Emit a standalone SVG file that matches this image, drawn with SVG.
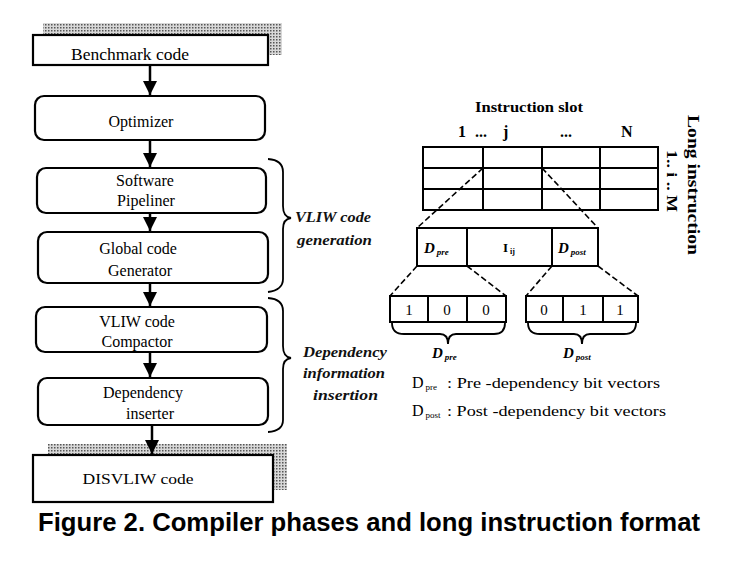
<svg xmlns="http://www.w3.org/2000/svg" width="738" height="583" viewBox="0 0 738 583">
<defs>
<pattern id="dots" width="3" height="3" patternUnits="userSpaceOnUse">
<rect width="3" height="3" fill="#d8d8d8"/>
<rect width="1.5" height="1.5" fill="#555"/>
</pattern>
<marker id="ah" viewBox="0 0 14 14" refX="14" refY="7" markerWidth="14" markerHeight="14" markerUnits="userSpaceOnUse" orient="auto">
<path d="M0,0 L14,7 L0,14 Z" fill="#000"/>
</marker>
</defs>
<style>
.box{fill:#fff;stroke:#000;stroke-width:2.2}
.lbl{font-family:"Liberation Serif","Times New Roman",serif;font-size:16px;fill:#000;text-anchor:middle}
.it{font-family:"Liberation Serif","Times New Roman",serif;font-size:15px;font-style:italic;font-weight:bold;fill:#111}
.b{font-family:"Liberation Serif","Times New Roman",serif;font-weight:bold;fill:#000}
.r{font-family:"Liberation Serif","Times New Roman",serif;fill:#000}
.arr{stroke:#000;stroke-width:2.5;fill:none;marker-end:url(#ah)}
.grid{stroke:#000;stroke-width:2;fill:none}
.dash{stroke:#000;stroke-width:1.6;fill:none;stroke-dasharray:6 3}
.brace{stroke:#000;stroke-width:1.8;fill:none}
</style>
<rect width="738" height="583" fill="#fff"/>

<g id="benchmark">
<rect x="43" y="23" width="239" height="32" fill="url(#dots)"/>
<rect class="box" x="33" y="35" width="235" height="30"/>
<text class="lbl" x="130" y="60" textLength="118" lengthAdjust="spacingAndGlyphs">Benchmark  code</text>
</g>

<g id="optimizer">
<rect class="box" x="35" y="96" width="230" height="44" rx="9"/>
<text class="lbl" x="141" y="127">Optimizer</text>
</g>

<g id="pipeliner">
<rect class="box" x="37" y="168" width="229" height="45" rx="9"/>
<text class="lbl" x="145" y="186">Software</text>
<text class="lbl" x="146" y="206">Pipeliner</text>
</g>

<g id="globalcode">
<rect class="box" x="38" y="232" width="230" height="51" rx="9"/>
<text class="lbl" x="138" y="254">Global code</text>
<text class="lbl" x="140" y="276">Generator</text>
</g>

<g id="compactor">
<rect class="box" x="36" y="307" width="231" height="45" rx="9"/>
<text class="lbl" x="137" y="327">VLIW code</text>
<text class="lbl" x="137" y="347">Compactor</text>
</g>

<g id="inserter">
<rect class="box" x="38" y="378" width="230" height="47" rx="9"/>
<text class="lbl" x="143" y="398">Dependency</text>
<text class="lbl" x="150" y="419">inserter</text>
</g>

<g id="disvliw">
<rect x="48" y="444" width="239" height="46" fill="url(#dots)"/>
<rect class="box" x="33" y="455" width="240" height="47"/>
<text class="lbl" x="138" y="484" style="font-size:15px" textLength="111" lengthAdjust="spacingAndGlyphs">DISVLIW  code</text>
</g>

<g id="brace-vliw">
<path class="brace" d="M268,159 Q283,160 283,172 L283,206 Q283,217 291,218 Q283,219 283,229 L283,279 Q283,290 268,292"/>
<text class="it" x="295" y="222" textLength="76" lengthAdjust="spacingAndGlyphs">VLIW code</text>
<text class="it" x="297" y="245" textLength="75" lengthAdjust="spacingAndGlyphs">generation</text>
</g>

<g id="brace-dep">
<path class="brace" d="M268,298 Q283,299 283,311 L283,346 Q283,357 291,358 Q283,359 283,369 L283,420 Q283,431 268,432"/>
<text class="it" x="303" y="357" textLength="84" lengthAdjust="spacingAndGlyphs">Dependency</text>
<text class="it" x="303" y="378" textLength="82" lengthAdjust="spacingAndGlyphs">information</text>
<text class="it" x="313" y="400" textLength="65" lengthAdjust="spacingAndGlyphs">insertion</text>
</g>

<g id="slot-grid">
<text class="b" x="529" y="112" font-size="14" text-anchor="middle" textLength="108" lengthAdjust="spacingAndGlyphs">Instruction slot</text>
<text class="b" x="458" y="137" font-size="16">1</text>
<text class="b" x="475" y="137" font-size="16">...</text>
<text class="b" x="503" y="137" font-size="16">j</text>
<text class="b" x="560" y="137" font-size="16">...</text>
<text class="b" x="621" y="137" font-size="16">N</text>
<rect class="grid" x="423" y="147" width="235" height="63"/>
<line class="grid" x1="423" y1="168" x2="658" y2="168"/>
<line class="grid" x1="423" y1="189" x2="658" y2="189"/>
<line class="grid" x1="483" y1="147" x2="483" y2="210"/>
<line class="grid" x1="542" y1="147" x2="542" y2="210"/>
<line class="grid" x1="600" y1="147" x2="600" y2="210"/>
<text class="b" font-size="15" transform="translate(667,150) rotate(90)" textLength="62" lengthAdjust="spacingAndGlyphs">1.. i .. M</text>
<text class="b" font-size="16" transform="translate(688,115) rotate(90)" textLength="140" lengthAdjust="spacingAndGlyphs">Long instruction</text>
</g>

<g id="zoom-lines">
<line class="dash" x1="483" y1="168" x2="417" y2="228"/>
<line class="dash" x1="542" y1="168" x2="598" y2="228"/>
<line class="dash" x1="417" y1="266" x2="390" y2="296"/>
<line class="dash" x1="467" y1="266" x2="506" y2="296"/>
<line class="dash" x1="552" y1="266" x2="526" y2="296"/>
<line class="dash" x1="598" y1="266" x2="638" y2="296"/>
</g>

<g id="instr-box">
<rect class="grid" x="417" y="228" width="181" height="38"/>
<line class="grid" x1="467" y1="228" x2="467" y2="266"/>
<line class="grid" x1="552" y1="228" x2="552" y2="266"/>
<text class="b" x="424" y="253" font-size="15" font-style="italic">D<tspan font-size="9" dx="2" dy="2">pre</tspan></text>
<text class="b" x="503" y="252" font-size="13">I<tspan font-size="8" dx="2" dy="2">ij</tspan></text>
<text class="b" x="558" y="253" font-size="15" font-style="italic">D<tspan font-size="9" dx="2" dy="2">post</tspan></text>
</g>

<g id="dpre-bits">
<rect class="grid" x="390" y="296" width="116" height="26"/>
<line class="grid" x1="428" y1="296" x2="428" y2="322"/>
<line class="grid" x1="467" y1="296" x2="467" y2="322"/>
<text class="r" x="409" y="315" font-size="15" text-anchor="middle">1</text>
<text class="r" x="447" y="315" font-size="15" text-anchor="middle">0</text>
<text class="r" x="486" y="315" font-size="15" text-anchor="middle">0</text>
<path class="brace" d="M392,323 Q392,334 404,334 L440,334 Q448,334 448,344 Q448,334 456,334 L494,334 Q505,334 505,323"/>
<text class="b" x="432" y="358" font-size="15" font-style="italic">D<tspan font-size="9" dx="2" dy="2">pre</tspan></text>
</g>

<g id="dpost-bits">
<rect class="grid" x="526" y="296" width="112" height="26"/>
<line class="grid" x1="563" y1="296" x2="563" y2="322"/>
<line class="grid" x1="603" y1="296" x2="603" y2="322"/>
<text class="r" x="544" y="315" font-size="15" text-anchor="middle">0</text>
<text class="r" x="583" y="315" font-size="15" text-anchor="middle">1</text>
<text class="r" x="620" y="315" font-size="15" text-anchor="middle">1</text>
<path class="brace" d="M528,323 Q528,334 540,334 L574,334 Q582,334 582,344 Q582,334 590,334 L624,334 Q636,334 636,323"/>
<text class="b" x="563" y="358" font-size="15" font-style="italic">D<tspan font-size="9" dx="2" dy="2">post</tspan></text>
</g>

<g id="legend">
<text class="r" x="412" y="388" font-size="16">D<tspan font-size="9" dx="2" dy="2">pre</tspan></text>
<text class="r" x="447" y="388" font-size="15" textLength="213" lengthAdjust="spacingAndGlyphs">: Pre  -dependency bit vectors</text>
<text class="r" x="412" y="416" font-size="16">D<tspan font-size="9" dx="2" dy="2">post</tspan></text>
<text class="r" x="447" y="416" font-size="15" textLength="219" lengthAdjust="spacingAndGlyphs">: Post  -dependency bit vectors</text>
</g>

<g id="caption">
<text x="38" y="531" font-family="'Liberation Sans',Arial,sans-serif" font-weight="bold" font-size="26" textLength="662" lengthAdjust="spacingAndGlyphs">Figure 2. Compiler phases and long instruction format</text>
</g>

<g id="connectors">
<line class="arr" x1="150" y1="65" x2="150" y2="95"/>
<line class="arr" x1="150" y1="140" x2="150" y2="167"/>
<line class="arr" x1="150" y1="213" x2="150" y2="231"/>
<line class="arr" x1="150" y1="283" x2="150" y2="306"/>
<line class="arr" x1="150" y1="352" x2="150" y2="377"/>
<line class="arr" x1="152" y1="425" x2="152" y2="454"/>
</g>
</svg>
